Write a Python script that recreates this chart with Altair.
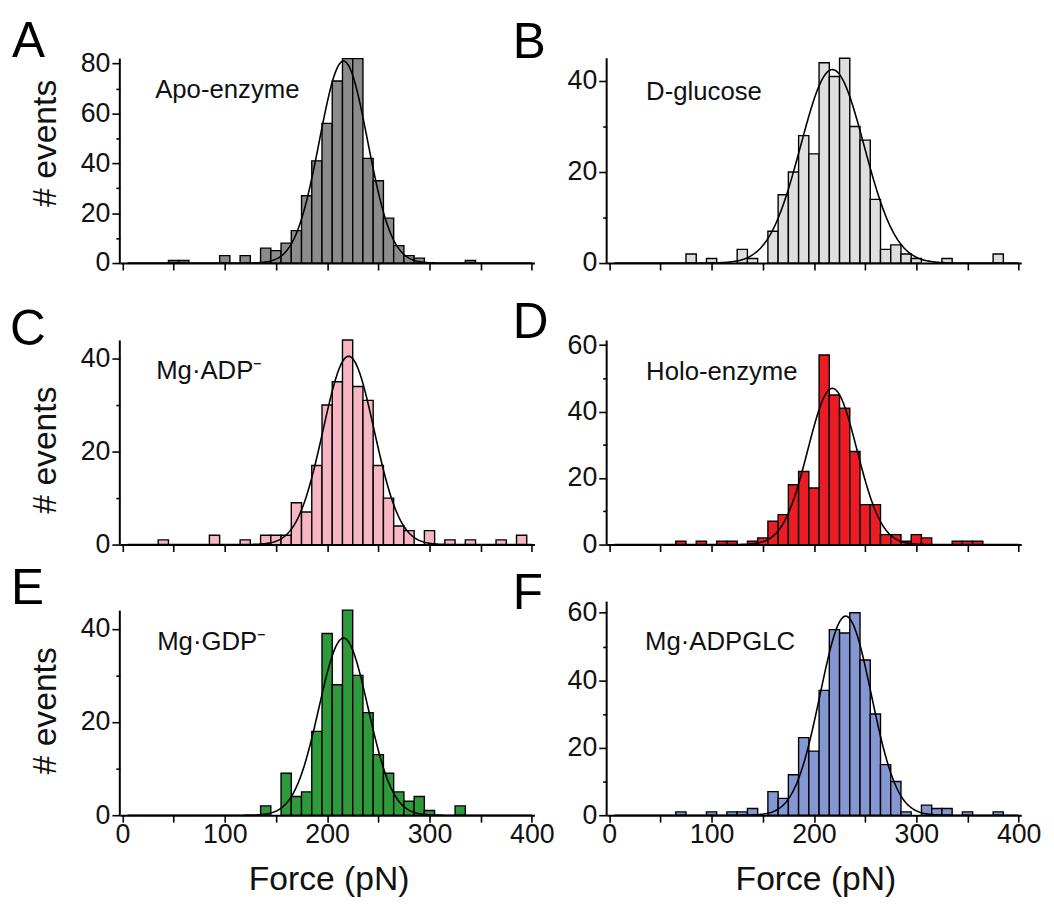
import altair as alt
import pandas as pd

# ------------------------------------------------------------------ data
LETTERS = ["A", "B", "C", "D", "E", "F"]
LABELS = ["Apo-enzyme", "D-glucose", "Mg·ADP⁻", "Holo-enzyme", "Mg·GDP⁻", "Mg·ADPGLC"]
FILLS = ["#8c8c8c", "#dedede", "#f6b6c3", "#ec1c24", "#2f9a3c", "#8597d2"]

CENTERS_A = [50, 60, 100, 120, 140, 150, 160, 170, 180, 190, 200, 210, 220, 230, 240, 250, 260, 270, 280, 290, 340]
COUNTS_A = [1, 1, 3, 3, 6, 5, 8, 13, 27, 41, 56, 73, 82, 82, 42, 33, 18, 7, 3, 2, 1]

CENTERS_B = [80, 100, 130, 140, 160, 170, 180, 190, 200, 210, 220, 230, 240, 250, 260, 270, 280, 290, 300, 330, 380]
COUNTS_B = [2, 1, 3, 1, 7, 15, 20, 28, 24, 44, 41, 45, 30, 27, 14, 3, 4, 2, 1, 1, 2]

CENTERS_C = [40, 90, 120, 140, 150, 160, 170, 180, 190, 200, 210, 220, 230, 240, 250, 260, 270, 280, 300, 320, 340, 370, 390]
COUNTS_C = [1, 2, 1, 2, 2, 2, 9, 7, 17, 30, 35, 44, 34, 31, 17, 10, 4, 3, 3, 1, 1, 1, 2]

CENTERS_D = [70, 90, 110, 120, 140, 150, 160, 170, 180, 190, 200, 210, 220, 230, 240, 250, 260, 270, 280, 290, 300, 310, 340, 350, 360]
COUNTS_D = [1, 1, 1, 1, 1, 2, 7, 9, 18, 22, 17, 57, 45, 41, 28, 12, 12, 3, 3, 1, 3, 2, 1, 1, 1]

CENTERS_E = [140, 160, 170, 180, 190, 200, 210, 220, 230, 240, 250, 260, 270, 280, 290, 300, 330]
COUNTS_E = [2, 9, 4, 5, 18, 39, 28, 44, 30, 22, 13, 9, 5, 3, 4, 1, 2]

CENTERS_F = [70, 100, 120, 130, 140, 160, 170, 180, 190, 200, 210, 220, 230, 240, 250, 260, 270, 280, 290, 310, 320, 330, 350, 380]
COUNTS_F = [1, 1, 1, 1, 2, 7, 5, 12, 23, 19, 37, 55, 54, 60, 46, 30, 15, 10, 1, 3, 2, 2, 1, 1]

# Gaussian fits: amplitude, mean, sigma
FIT_AMP = [81, 42.5, 40.5, 47, 38, 59]
FIT_MU = [216, 218, 221, 218, 216, 231]
FIT_SIG = [23.5, 31, 25, 24, 24, 25]

BIN_WIDTH = 10
X_TICKS = [0, 50, 100, 150, 200, 250, 300, 350, 400]
Y_TICKS = [
    [0, 10, 20, 30, 40, 50, 60, 70, 80],
    [0, 10, 20, 30, 40],
    [0, 10, 20, 30, 40],
    [0, 10, 20, 30, 40, 50, 60],
    [0, 10, 20, 30, 40],
    [0, 10, 20, 30, 40, 50, 60],
]
AXIS_TOP = [82, 45, 43.9, 61.4, 43.9, 63.3]
X_TITLE = "Force (pN)"
Y_TITLE = "# events"

CENTERS = [CENTERS_A, CENTERS_B, CENTERS_C, CENTERS_D, CENTERS_E, CENTERS_F]
COUNTS = [COUNTS_A, COUNTS_B, COUNTS_C, COUNTS_D, COUNTS_E, COUNTS_F]

# ------------------------------------------------------------------ layout
FONT = "Liberation Sans"
W = 419
ROW_H = [207, 227, 216]
PX_PER_UNIT = [2.52, 4.6, 4.7, 3.36, 4.71, 3.41]
X_DOMAIN = [-2.5, 402.5]
LABEL_POS = [(32, 66), (36, 35.8), (33, 35.5), (36, 49.5), (34, 35.4), (35, 49)]
LETTER_POS = [(-109, -1), (-95, 0), (-111, 25.5), (-95, 18), (-110, 3), (-95, 7.7)]
YTITLE_POS = [(-74, 86), None, (-74, 131.5), None, (-74, 110.5), None]
TICK_FS = 27
TITLE_FS = 34


def panel(i):
    row = i // 2
    h = ROW_H[row]
    bottom = row == 2
    ymax = h / PX_PER_UNIT[i]
    xscale = alt.Scale(domain=X_DOMAIN, nice=False, zero=False)
    yscale = alt.Scale(domain=[0, ymax], nice=False)

    xaxis = alt.Axis(
        values=X_TICKS, title=None, grid=False,
        labels=bottom,
        labelExpr="datum.value % 100 === 0 ? datum.label : ''",
        labelFontSize=TICK_FS, labelFont=FONT, labelColor="#111", labelPadding=0,
        tickSize=7, tickWidth=1.6, tickColor="black",
        domainColor="black", domainWidth=2,
    )
    yaxis = alt.Axis(
        values=Y_TICKS[i], title=None, grid=False, domain=False,
        labelExpr="datum.value % 20 === 0 ? datum.label : ''",
        labelFontSize=TICK_FS, labelFont=FONT, labelColor="#111", labelPadding=2,
        tickSize={"condition": {"test": "datum.value % 20 === 0", "value": 8}, "value": 4},
        tickWidth=1.6, tickColor="black",
    )

    def X(field):
        return alt.X(field, scale=xscale, axis=xaxis)

    def Y(field):
        return alt.Y(field, scale=yscale, axis=yaxis)

    df = pd.DataFrame({"center": CENTERS[i], "count": COUNTS[i]})
    bars = (
        alt.Chart(df)
        .transform_calculate(
            x0=f"datum.center - {BIN_WIDTH / 2}",
            x1=f"datum.center + {BIN_WIDTH / 2}",
            base="0",
        )
        .mark_bar(color=FILLS[i], stroke="black", strokeWidth=1.4)
        .encode(x=X("x0:Q"), x2="x1:Q", y=Y("count:Q"), y2="base:Q")
    )

    fit = (
        alt.Chart(alt.sequence(5, 401, 1, as_="f"))
        .transform_calculate(
            g=f"{FIT_AMP[i]} * exp(-0.5 * pow((datum.f - {FIT_MU[i]}) / {FIT_SIG[i]}, 2))"
        )
        .mark_line(color="black", strokeWidth=1.6)
        .encode(x=X("f:Q"), y=Y("g:Q"))
    )

    yline = (
        alt.Chart(pd.DataFrame({"lo": [0], "hi": [AXIS_TOP[i]]}))
        .mark_rule(color="black", strokeWidth=2)
        .encode(x=alt.value(0), y=Y("lo:Q"), y2="hi:Q")
    )

    lx, ly = LABEL_POS[i]
    label = (
        alt.Chart(pd.DataFrame({"t": [LABELS[i]], "x": [lx], "y": [ly]}))
        .mark_text(align="left", baseline="alphabetic", fontSize=26, font=FONT, color="#111")
        .encode(x=X("x:Q"), y=Y("y:Q"), text="t:N")
    )

    ex, ey = LETTER_POS[i]
    letter = (
        alt.Chart(pd.DataFrame({"t": [LETTERS[i]]}))
        .mark_text(align="left", baseline="alphabetic", fontSize=50, font=FONT, color="black")
        .encode(x=alt.value(ex), y=alt.value(ey), text="t:N")
    )

    layers = [bars, fit, yline, label, letter]

    if YTITLE_POS[i] is not None:
        tx, ty = YTITLE_POS[i]
        layers.append(
            alt.Chart(pd.DataFrame({"t": [Y_TITLE]}))
            .mark_text(angle=270, align="center", baseline="middle", fontSize=TITLE_FS, font=FONT, color="#111")
            .encode(x=alt.value(tx), y=alt.value(ty), text="t:N")
        )
    if bottom:
        layers.append(
            alt.Chart(pd.DataFrame({"t": [X_TITLE]}))
            .mark_text(align="center", baseline="middle", fontSize=TITLE_FS, font=FONT, color="#111")
            .encode(x=alt.value(W / 2 + 2), y=alt.value(h + 66), text="t:N")
        )

    return alt.layer(*layers).properties(width=W, height=h)


chart = (
    alt.concat(*[panel(i) for i in range(6)], columns=2, spacing={"row": 57.5, "column": 73}, bounds="flush")
    .properties(padding={"left": 2, "top": 5, "right": 5, "bottom": 5})
    .configure(font=FONT)
    .configure_view(stroke=None)
)

chart.save("out.html", embed_options={"renderer": "svg", "actions": False})
